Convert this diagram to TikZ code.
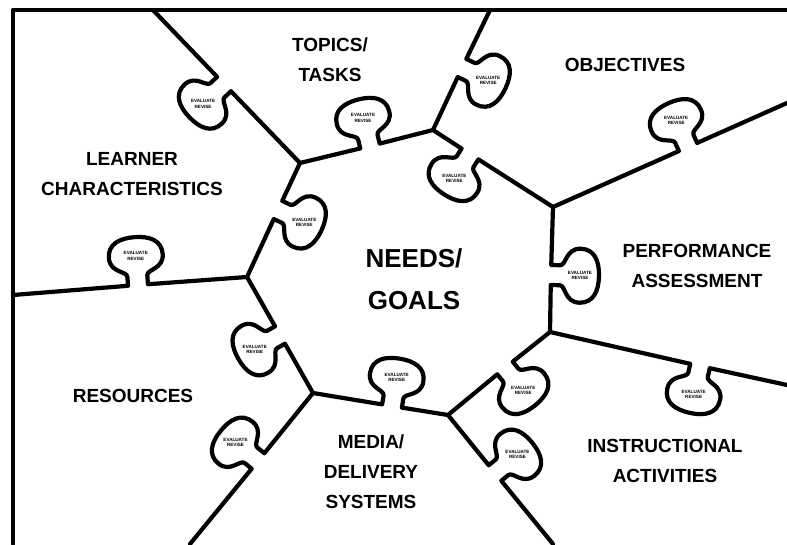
\documentclass[tikz,border=0pt]{standalone}
\usepackage{fontspec}
\setmainfont{Liberation Sans}
\tikzset{
  edge/.style={line width=4.2pt, line join=round, line cap=round},
  piecelabel/.style={font=\fontsize{19}{30}\selectfont\bfseries, align=center},
  hublabel/.style={font=\fontsize{26}{42}\selectfont\bfseries, align=center},
  evtext/.style={font=\fontsize{4.6}{5.4}\selectfont\bfseries, align=center, inner sep=0pt}
}
% puzzle tab: base point, angle, side, name
\newcommand\knob[4]{%
  {[shift={#1},rotate=#2,yscale=#3]
   -- (-10,0) -- (-10,-9) .. controls (-10,-15) and (-27,-14) .. (-27,-29)
   .. controls (-27,-43) and (-15,-48) .. (0,-48)
   .. controls (15,-48) and (27,-43) .. (27,-29)
   .. controls (27,-14) and (10,-15) .. (10,-9) -- (10,0)
   node[evtext] (#4) at (0,-29) {EVALUATE\\REVISE}}}

\begin{document}
\begin{tikzpicture}[x=1pt,y=-1pt]
\useasboundingbox (0,0) rectangle (787,544);
\coordinate (v1) at (300,163);
\coordinate (v2) at (433,130);
\coordinate (v3) at (553,207);
\coordinate (v4) at (550,332);
\coordinate (v5) at (448,415);
\coordinate (v6) at (313,393);
\coordinate (v7) at (247,277);
\coordinate (e1) at (153,10);
\coordinate (e2) at (490,10);
\coordinate (e3) at (787,103);
\coordinate (e4) at (787,385);
\coordinate (e5) at (553,544);
\coordinate (e6) at (190,544);
\coordinate (e7) at (13,295);

\draw[edge] (13,544) -- (13,10) -- (787,10);

\draw[edge] (v1) \knob{(370,146)}{13.9}{1}{k1} -- (v2)
  \knob{(470,154)}{-32.7}{-1}{k2} -- (v3)
  \knob{(551,275)}{-91.4}{1}{k3} -- (v4)
  \knob{(505,368)}{-140.9}{1}{k4} -- (v5)
  \knob{(392,406)}{170.7}{-1}{k5} -- (v6)
  \knob{(280,335)}{119.6}{1}{k6} -- (v7)
  \knob{(278,210)}{65.1}{-1}{k7} -- cycle;

\draw[edge] (v1) \knob{(224,84)}{133.9}{1}{k8} -- (e1);
\draw[edge] (v2) \knob{(462,68)}{64.6}{-1}{k9} -- (e2);
\draw[edge] (v3) \knob{(688,147)}{24}{1}{k10} -- (e3);
\draw[edge] (v4) \knob{(700,366)}{-12.6}{-1}{k11} -- (e4);
\draw[edge] (v5) \knob{(495,473)}{-50.9}{1}{k12} -- (e5);
\draw[edge] (v6) \knob{(258,461)}{-129.2}{-1}{k13} -- (e6);
\draw[edge] (v7) \knob{(138,285)}{-175.6}{-1}{k14} -- (e7);

\node[piecelabel] (topics) at (330,60) {TOPICS/\\TASKS};
\node[piecelabel] (objectives) at (625,65) {OBJECTIVES};
\node[piecelabel] (learner) at (132,174) {LEARNER\\CHARACTERISTICS};
\node[hublabel] (needs) at (414,279) {NEEDS/\\GOALS};
\node[piecelabel] (assessment) at (697,266) {PERFORMANCE\\ASSESSMENT};
\node[piecelabel] (resources) at (133,396) {RESOURCES};
\node[piecelabel] (media) at (371,472) {MEDIA/\\DELIVERY\\SYSTEMS};
\node[piecelabel] (activities) at (665,461) {INSTRUCTIONAL\\ACTIVITIES};
\end{tikzpicture}
\end{document}
